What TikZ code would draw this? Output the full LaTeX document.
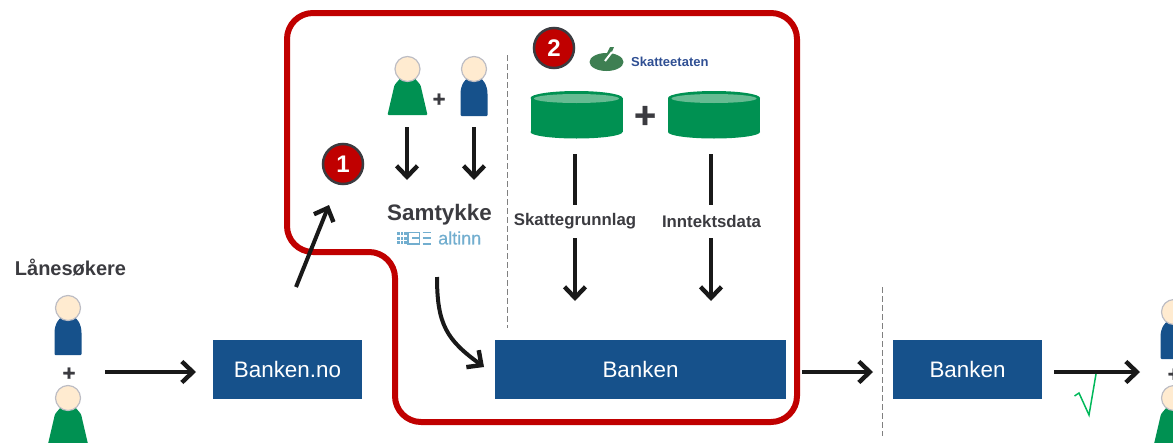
\documentclass[tikz,border=0pt]{standalone}
\usepackage{fontspec}
\setmainfont{Liberation Sans}
\newfontfamily\plusfont{Liberation Sans Bold}[FakeBold=1.2]
\newfontfamily\altinnfont{Liberation Sans}[FakeBold=0.7]
\usetikzlibrary{arrows.meta}
\definecolor{bankblue}{HTML}{16518B}
\definecolor{personblue}{HTML}{16518B}
\definecolor{skattgreen}{HTML}{009152}
\definecolor{lightgreen}{HTML}{66BB92}
\definecolor{logogreen}{HTML}{3E7F52}
\definecolor{skin}{HTML}{FFEBD0}
\definecolor{headline}{HTML}{BDBDC4}
\definecolor{borderred}{HTML}{C00000}
\definecolor{textgray}{HTML}{3B3B40}
\definecolor{altinnblue}{HTML}{72AECF}
\definecolor{logoblue}{HTML}{2F4F93}
\definecolor{checkgreen}{HTML}{00B85A}
\tikzset{
	bankbox/.style={fill=bankblue,text=white,minimum height=59pt,inner sep=0pt,font=\fontsize{22.4}{24}\selectfont},
	label/.style={text=textgray,inner sep=0pt,font=\bfseries\fontsize{16.8}{18}\selectfont},
	badge/.style={circle,fill=borderred,draw=textgray,line width=2.5pt,minimum size=40pt,inner sep=0pt,text=white,font=\bfseries\fontsize{24}{26}\selectfont},
	flow/.style={line width=4pt,color=black!90,-{Straight Barb[sharp,length=11pt,width=21pt,line width=4.4pt]}},
	stem/.style={line width=4pt,color=black!90},
	divider/.style={color=gray,line width=1pt,dash pattern=on 6pt off 3pt},
	head/.style={fill=skin,draw=headline,line width=1.2pt},
	pics/blueperson/.style={code={
		\fill[personblue,rounded corners=1pt] (-13.5,47) -- (-13.5,26) .. controls (-13.5,16) and (-9,10) .. (-5,9) -- (5,9) .. controls (9,10) and (13.5,16) .. (13.5,26) -- (13.5,47) -- cycle;
		\draw[head] (0,0) circle (12.5);
	}},
	pics/greenperson/.style={code={
		\fill[skattgreen,rounded corners=1pt] (-20,46) -- (-13,16) -- (-7,9) -- (7,9) -- (13,16) -- (20,46) -- cycle;
		\draw[head] (0,0) circle (12.5);
	}},
	pics/datadisk/.style={code={
		\fill[skattgreen] (-46,7) rectangle (46,41);
		\fill[skattgreen] (0,7) ellipse (46 and 7);
		\fill[skattgreen] (0,41) ellipse (46 and 6.5);
		\fill[lightgreen] (0,7.5) ellipse (42.5 and 4.5);
	}},
}
\newcommand{\plussign}[3]{\node[text=textgray,inner sep=0pt,font=\plusfont\fontsize{#3}{#3}\selectfont] (#1) at #2 {+};}
\begin{document}
\begin{tikzpicture}[x=1pt,y=-1pt]
		\useasboundingbox (0,0) rectangle (1173,442);
		\clip (0,0) rectangle (1173,442);
		%red frame
		\draw[color=borderred,line width=6pt,rounded corners=26pt] (287,13) -- (797,13) -- (797,422) -- (395,422) -- (395,252) -- (287,252) -- cycle;
		%dividers
		\coordinate (divAtop) at (507,55);
		\coordinate (divAend) at (507,328);
		\coordinate (divBtop) at (882,287);
		\coordinate (divBend) at (882,436);
		\draw[divider] (divAtop) -- (divAend);
		\draw[divider] (divBtop) -- (divBend);
		%applicants left
		\node[text=textgray,inner sep=0pt,font=\bfseries\fontsize{20}{22}\selectfont] (applicants) at (70.5,268) {Lånesøkere};
		\pic at (68,308) {blueperson};
		\plussign{plusA}{(69,374)}{22}
		\pic at (68,398) {greenperson};
		%applicants top
		\pic at (407.5,69) {greenperson};
		\plussign{plusB}{(439,100)}{22}
		\pic at (474,69) {blueperson};
		%applicants right
		\pic at (1174,312) {blueperson};
		\plussign{plusC}{(1174,375)}{22}
		\pic at (1174,398) {greenperson};
		%banks
		\node[bankbox,minimum width=149pt] (bankweb) at (287.5,369.5) {Banken.no};
		\node[bankbox,minimum width=291pt] (bankmain) at (640.5,369.5) {Banken};
		\node[bankbox,minimum width=149pt] (bankend) at (967.5,369.5) {Banken};
		%badges
		\node[badge] (badgeA) at (343,164) {1};
		\node[badge] (badgeB) at (554,48) {2};
		%tax office logo
		\fill[logogreen] (606.5,62) ellipse (17 and 9);
		\fill[logogreen] (610,47) -- (614,47) -- (611,54) -- (607,53) -- cycle;
		\draw[color=white,line width=2pt] (605,61) -- (612,52);
		\node[text=logoblue,inner sep=0pt,anchor=west,font=\bfseries\fontsize{13}{15}\selectfont] (skatt) at (631,62) {Skatteetaten};
		%data
		\pic at (576.5,91) {datadisk};
		\pic at (714,91) {datadisk};
		\plussign{plusD}{(645,117)}{37}
		%consent
		\node[text=textgray,inner sep=0pt,font=\bfseries\fontsize{22.4}{24}\selectfont] (consent) at (439.5,215) {Samtykke};
		\node[text=altinnblue,inner sep=0pt,anchor=west,font=\altinnfont\fontsize{18}{20}\selectfont] (altinn) at (438,238) {altinn};
		\foreach \i in {0,1,2}{
			\foreach \j in {0,1,2}{
				\fill[altinnblue] (397+\i*3.5,232+\j*4.5) rectangle +(2.6,3);
			}
		}
		\draw[color=altinnblue,line width=1.7pt] (408,232.5) rectangle (419.5,244);
		\draw[color=altinnblue,line width=1.7pt] (412,238) -- (419.5,238);
		\draw[color=altinnblue,line width=1.7pt] (422.5,232.5) -- (430.5,232.5) (422.5,238) -- (430.5,238) (422.5,244) -- (430.5,244);
		%labels
		\node[label] (taxbase) at (575,221.5) {Skattegrunnlag};
		\node[label] (income) at (711.5,221.5) {Inntektsdata};
		%arrows
		\coordinate (startA) at (105,372);
		\coordinate (endA) at (196,372);
		\coordinate (startB) at (296,287);
		\coordinate (endB) at (329,205);
		\coordinate (startC) at (407,127);
		\coordinate (endC) at (407,180);
		\coordinate (startD) at (474,127);
		\coordinate (endD) at (474,180);
		\coordinate (startE) at (575,154);
		\coordinate (endE) at (575,205);
		\coordinate (startF) at (711,154);
		\coordinate (endF) at (711,205);
		\coordinate (startG) at (575,238);
		\coordinate (endG) at (575,301);
		\coordinate (startH) at (711,238);
		\coordinate (endH) at (711,301);
		\coordinate (startI) at (437,277);
		\coordinate (endI) at (484,367);
		\coordinate (startJ) at (802,372);
		\coordinate (endJ) at (873,372);
		\coordinate (startK) at (1054,372);
		\coordinate (endK) at (1140,372);
		\draw[flow] (startA) -- (endA);
		\draw[flow] (startB) -- (endB);
		\draw[flow] (startC) -- (endC);
		\draw[flow] (startD) -- (endD);
		\draw[stem] (startE) -- (endE);
		\draw[stem] (startF) -- (endF);
		\draw[flow] (startG) -- (endG);
		\draw[flow] (startH) -- (endH);
		\draw[flow] (startI) .. controls (437,325) and (447,340) .. (endI);
		\draw[flow] (startJ) -- (endJ);
		\draw[flow] (startK) -- (endK);
		%check mark
		\draw[color=checkgreen,line width=1.5pt] (1074.5,396) -- (1079,393) -- (1089,415) -- (1096,374);
	\end{tikzpicture}
\end{document}
